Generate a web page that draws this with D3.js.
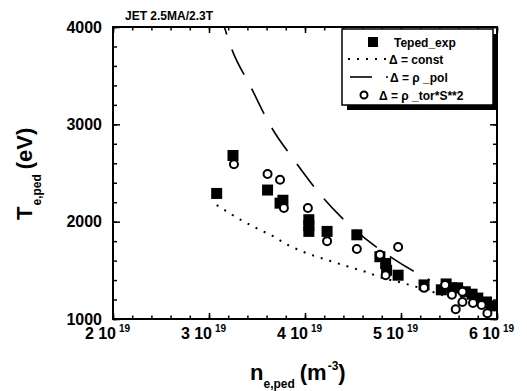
<!DOCTYPE html>
<html>
<head>
<meta charset="utf-8">
<title>JET 2.5MA/2.3T</title>
<script src="https://cdn.jsdelivr.net/npm/d3@7"></script>
<style>
  body { margin: 0; background: #fff; }
  text { font-family: "Liberation Sans", Arial, sans-serif; font-weight: bold; fill: #000; }
</style>
</head>
<body>
<script>
  // density in units of 1e19 m^-3, temperature in eV
  var expN = [3.08, 3.25, 3.61, 3.74, 3.77, 4.04, 4.04, 4.04, 4.23, 4.54, 4.78, 4.84, 4.85, 4.97, 5.24,
              5.42, 5.47, 5.53, 5.59, 5.67, 5.74, 5.80, 5.89, 5.94];
  var expT = [2290, 2680, 2325, 2190, 2220, 2020, 1960, 1900, 1900, 1865, 1640, 1570, 1500, 1450, 1350,
              1300, 1360, 1320, 1320, 1280, 1255, 1215, 1175, 1135];

  var torN = [3.26, 3.61, 3.74, 3.78, 4.03, 4.23, 4.54, 4.78, 4.97, 4.84, 5.24,
              5.46, 5.53, 5.64, 5.57, 5.64, 5.75, 5.84, 5.90];
  var torT = [2590, 2490, 2430, 2140, 2140, 1800, 1720, 1660, 1740, 1450, 1320,
              1350, 1250, 1280, 1100, 1175, 1165, 1145, 1060];

  var constN = [3.08, 3.29, 3.47, 3.66, 3.84, 4.03, 4.33, 4.63, 4.81, 5.02, 5.23, 5.45];
  var constT = [2170, 2040, 1945, 1855, 1750, 1670, 1575, 1485, 1420, 1370, 1310, 1240];

  var polN = [3.10, 3.24, 3.43, 3.635, 3.90, 4.18, 4.52, 4.91, 5.30];
  var polT = [4200, 3765, 3395, 2995, 2615, 2255, 1915, 1625, 1400];

  var xTicks = [2, 3, 4, 5, 6];
  var yTicks = [1000, 2000, 3000, 4000];
  var legendLabels = ["Teped_exp", "\u0394 = const", "\u0394 = \u03c1 _pol", "\u0394 = \u03c1 _tor*S**2"];

  var W = 527, H = 391;
  var margin = {top: 27, right: 30, bottom: 72, left: 113};
  var width = W - margin.left - margin.right;
  var height = H - margin.top - margin.bottom;

  var svg = d3.select("body").append("svg")
    .attr("width", W).attr("height", H);

  var g = svg.append("g")
    .attr("transform", "translate(" + margin.left + "," + margin.top + ")");

  var x = d3.scaleLinear().domain([2, 6]).range([0, width]);
  var y = d3.scaleLinear().domain([1000, 4000]).range([height, 0]);

  g.append("clipPath").attr("id", "clip")
    .append("rect").attr("width", width).attr("height", height);

  // minor ticks
  var xMinor = d3.range(2, 6.001, 0.2);
  var yMinor = d3.range(1000, 4000.1, 200);

  function styleAxis(sel) {
    sel.select(".domain").remove();
    sel.selectAll("line").attr("stroke", "#000").attr("stroke-width", 1.5);
  }

  g.append("g").attr("transform", "translate(0," + height + ")")
    .call(d3.axisBottom(x).tickValues(xMinor).tickSize(-3.5).tickFormat(""))
    .call(styleAxis);
  g.append("g")
    .call(d3.axisTop(x).tickValues(xMinor).tickSize(-3.5).tickFormat(""))
    .call(styleAxis);
  g.append("g")
    .call(d3.axisLeft(y).tickValues(yMinor).tickSize(-4).tickFormat(""))
    .call(styleAxis);
  g.append("g").attr("transform", "translate(" + width + ",0)")
    .call(d3.axisRight(y).tickValues(yMinor).tickSize(-4).tickFormat(""))
    .call(styleAxis);

  // major ticks with labels
  var xAxis = g.append("g").attr("transform", "translate(0," + height + ")")
    .call(d3.axisBottom(x).tickValues(xTicks).tickSize(-6).tickPadding(9).tickFormat(d => d + " 10"))
    .call(styleAxis);
  xAxis.selectAll("text")
    .attr("font-size", 16).attr("font-family", null)
    .attr("dx", "-6px")
    .append("tspan")
    .attr("font-size", 10).attr("dy", "-0.7em").attr("dx", "3px")
    .text("19");

  g.append("g")
    .call(d3.axisTop(x).tickValues(xTicks).tickSize(-6).tickFormat(""))
    .call(styleAxis);

  g.append("g")
    .call(d3.axisLeft(y).tickValues(yTicks).tickSize(-7).tickPadding(11).tickFormat(d3.format("d")))
    .call(styleAxis)
    .selectAll("text").attr("font-size", 16).attr("font-family", null);

  g.append("g").attr("transform", "translate(" + width + ",0)")
    .call(d3.axisRight(y).tickValues(yTicks).tickSize(-7).tickFormat(""))
    .call(styleAxis);

  // frame
  g.append("rect")
    .attr("width", width).attr("height", height)
    .attr("fill", "none").attr("stroke", "#000").attr("stroke-width", 2);

  // model curves
  var line = d3.line().x(d => x(d[0])).y(d => y(d[1]));

  g.append("path")
    .datum(d3.zip(constN, constT))
    .attr("clip-path", "url(#clip)")
    .attr("d", line)
    .attr("fill", "none").attr("stroke", "#000").attr("stroke-width", 2)
    .attr("stroke-dasharray", "2,7");

  g.append("path")
    .datum(d3.zip(polN, polT))
    .attr("clip-path", "url(#clip)")
    .attr("d", d3.line().curve(d3.curveMonotoneX).x(d => x(d[0])).y(d => y(d[1])))
    .attr("fill", "none").attr("stroke", "#000").attr("stroke-width", 1.6)
    .attr("stroke-dasharray", "28,16");

  // experiment: filled squares
  var sq = 11;
  g.append("g").selectAll("rect")
    .data(d3.zip(expN, expT))
    .join("rect")
    .attr("x", d => x(d[0]) - sq / 2)
    .attr("y", d => y(d[1]) - sq / 2)
    .attr("width", sq).attr("height", sq)
    .attr("fill", "#000");

  // rho_tor*S^2 model: open circles
  g.append("g").selectAll("circle")
    .data(d3.zip(torN, torT))
    .join("circle")
    .attr("cx", d => x(d[0]))
    .attr("cy", d => y(d[1]))
    .attr("r", 4)
    .attr("fill", "#fff").attr("stroke", "#000").attr("stroke-width", 2);

  // title
  svg.append("text")
    .attr("x", 125).attr("y", 20)
    .attr("font-size", 12)
    .text("JET 2.5MA/2.3T");

  // axis titles
  var xl = svg.append("text")
    .attr("x", 250).attr("y", 380)
    .attr("font-size", 22);
  xl.append("tspan").text("n");
  xl.append("tspan").attr("font-size", 12).attr("dy", 8).text("e,ped");
  xl.append("tspan").attr("dy", -8).attr("dx", 5).text("(m");
  xl.append("tspan").attr("font-size", 12).attr("dy", -10).attr("dx", 1).text("-3");
  xl.append("tspan").attr("dy", 10).text(")");

  var yl = svg.append("text")
    .attr("transform", "translate(32,220) rotate(-90)")
    .attr("font-size", 22);
  yl.append("tspan").text("T");
  yl.append("tspan").attr("font-size", 12).attr("dy", 9).attr("dx", 1).text("e,ped");
  yl.append("tspan").attr("dy", -9).attr("dx", 5).text("(eV)");

  // legend
  var lg = svg.append("g").attr("transform", "translate(342,29)");
  var lw = 151, lh = 76;
  lg.append("rect").attr("x", 5).attr("y", 5).attr("width", lw).attr("height", lh).attr("fill", "#000");
  lg.append("rect").attr("width", lw).attr("height", lh)
    .attr("fill", "#fff").attr("stroke", "#000").attr("stroke-width", 1.5);

  var rowY = [13, 30, 48, 66];
  var textX = [52, 47, 48, 37];
  lg.selectAll("text.lab")
    .data(legendLabels)
    .join("text")
    .attr("class", "lab")
    .attr("x", (d, i) => textX[i])
    .attr("y", (d, i) => rowY[i] + 5)
    .attr("font-size", 12)
    .text(d => d);

  lg.append("rect").attr("x", 26).attr("y", rowY[0] - 5).attr("width", 10).attr("height", 10).attr("fill", "#000");
  lg.append("line").attr("x1", 6).attr("x2", 46).attr("y1", rowY[1]).attr("y2", rowY[1])
    .attr("stroke", "#000").attr("stroke-width", 2).attr("stroke-dasharray", "2,7");
  lg.append("line").attr("x1", 8).attr("x2", 30).attr("y1", rowY[2]).attr("y2", rowY[2])
    .attr("stroke", "#000").attr("stroke-width", 1.6);
  lg.append("line").attr("x1", 44).attr("x2", 46).attr("y1", rowY[2]).attr("y2", rowY[2])
    .attr("stroke", "#000").attr("stroke-width", 1.6);
  lg.append("circle").attr("cx", 22).attr("cy", rowY[3]).attr("r", 3.5)
    .attr("fill", "#fff").attr("stroke", "#000").attr("stroke-width", 2);
</script>
</body>
</html>
